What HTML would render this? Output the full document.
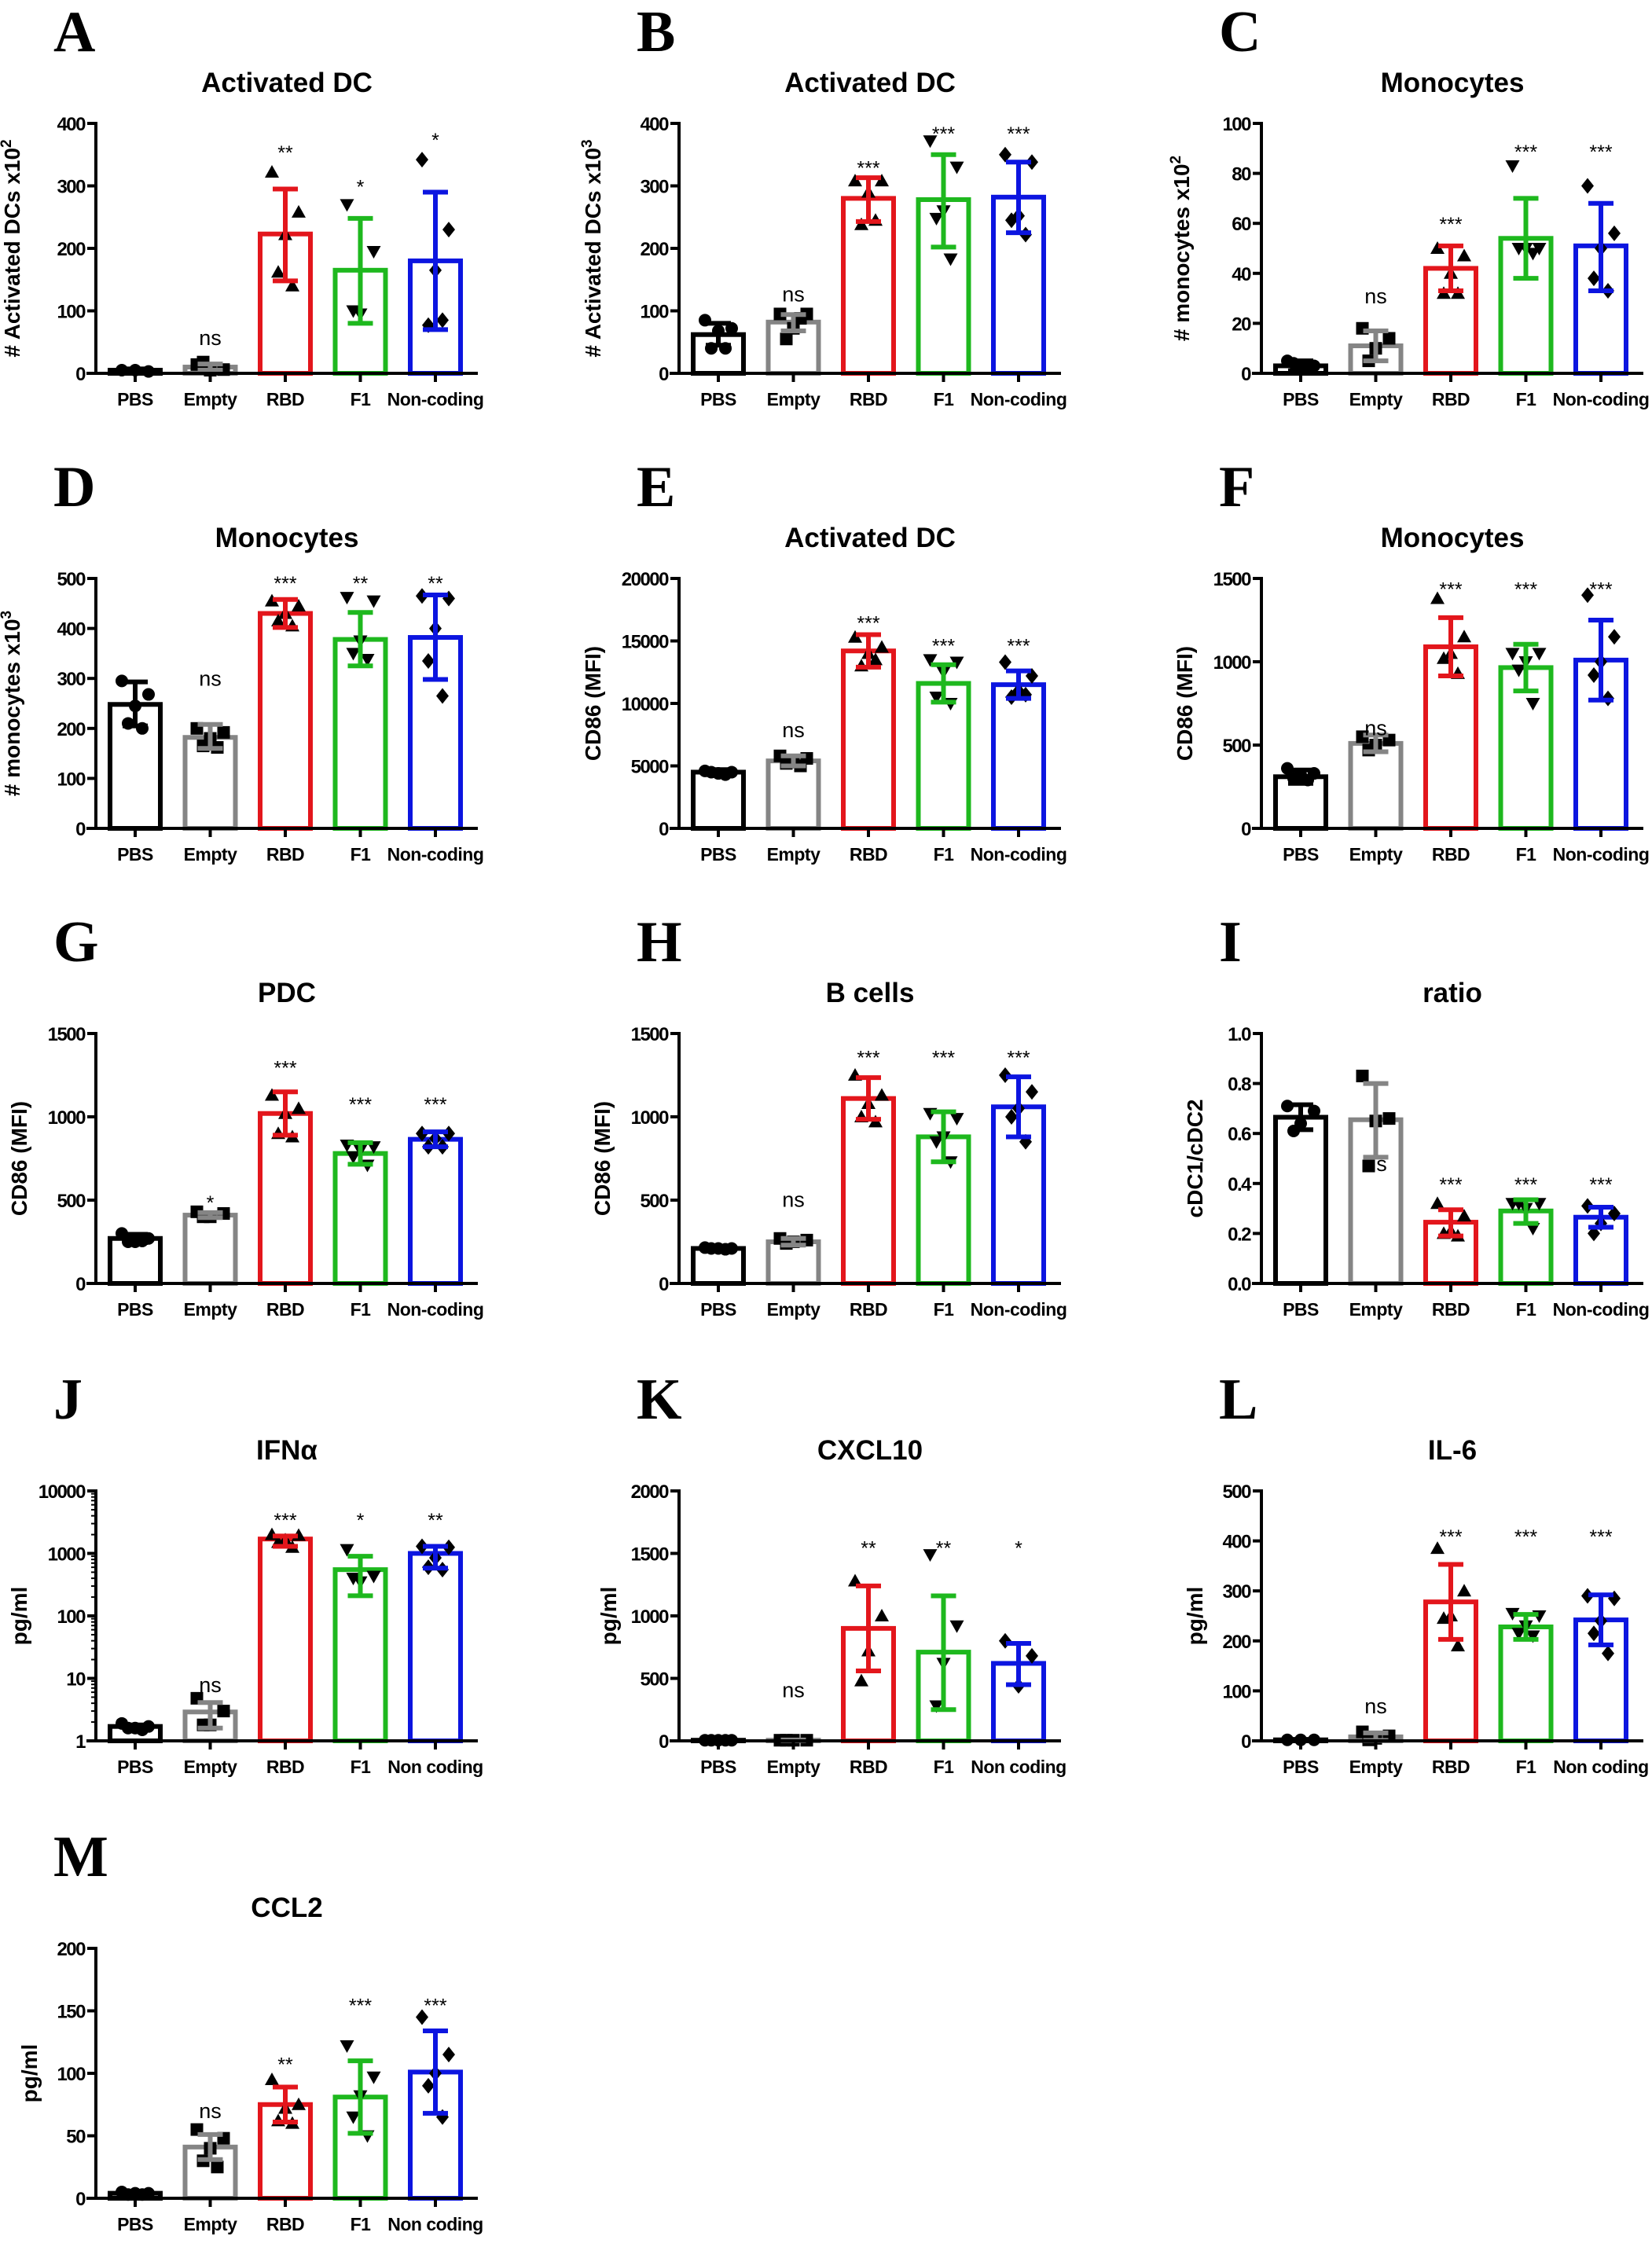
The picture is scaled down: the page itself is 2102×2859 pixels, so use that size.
<!DOCTYPE html>
<html><head><meta charset="utf-8"><style>
html,body{margin:0;padding:0;background:#fff;}
svg text{font-family:"Liberation Sans",Arial,sans-serif;}
</style></head>
<body>
<svg id="fig" xmlns="http://www.w3.org/2000/svg" width="2102" height="2854" viewBox="0 0 2102 2854"></svg>
<script>
// ---- data ----
const catsDash = ["PBS","Empty","RBD","F1","Non-coding"];
const catsSpace = ["PBS","Empty","RBD","F1","Non coding"];

const meansA = [5,10,223,165,180];
const loA = [3,5,148,80,70];
const hiA = [7,15,295,248,290];
const ptsA = [[5,3,5],[14,6,5,18],[322,258,222,162,140],[270,195,95,100],[342,230,165,77,85]];
const sigA = ["","ns","**","*","*"];
const sigYA = [0,45,355,300,375];

const meansB = [62,82,280,278,282];
const loB = [45,68,243,202,225];
const hiB = [80,94,313,350,338];
const ptsB = [[85,72,68,40,40],[95,95,72,55,88],[308,308,290,238,245],[372,330,260,248,183],[350,338,252,245,222]];
const sigB = ["","ns","***","***","***"];
const sigYB = [0,115,330,385,385];

const meansC = [3,11,42,54,51];
const loC = [1,5,33,38,33];
const hiC = [5,17,51,70,68];
const ptsC = [[5,3,2,4,2],[18,14,10,5],[50,47,40,32,32],[83,50,50,50,48],[75,56,50,38,33]];
const sigC = ["","ns","***","***","***"];
const sigYC = [0,28,60,89,89];

const meansD = [248,182,430,378,382];
const loD = [205,160,402,325,298];
const hiD = [293,208,458,432,467];
const ptsD = [[295,268,245,210,200],[200,192,180,165,162],[455,445,430,415,405],[462,455,375,350,338],[465,460,400,335,265]];
const sigD = ["","ns","***","**","**"];
const sigYD = [0,285,492,492,492];

const meansE = [4500,5400,14200,11600,11500];
const loE = [4300,5000,12900,10100,10400];
const hiE = [4700,5800,15500,13100,12600];
const ptsE = [[4600,4500,4400,4500,4300],[5800,5600,5300,5200,5000],[15300,14500,14000,13000,13500],[13500,13300,12500,10500,10000],[13300,12200,11000,10500,10700]];
const sigE = ["","ns","***","***","***"];
const sigYE = [0,7300,16500,14700,14700];

const meansF = [310,510,1090,965,1010];
const loF = [270,460,915,825,770];
const hiF = [350,560,1265,1105,1250];
const ptsF = [[360,330,320,300,290],[550,530,500,470],[1380,1150,1050,1020,930],[1050,1050,1000,950,750],[1400,1150,1000,920,780]];
const sigF = ["","ns","***","***","***"];
const sigYF = [0,560,1440,1440,1440];

const meansG = [270,410,1020,780,865];
const loG = [245,395,890,715,820];
const hiG = [295,425,1150,845,910];
const ptsG = [[300,270,250,250,255],[430,420,400,400],[1130,1050,1020,900,880],[830,820,800,760,710],[900,900,870,820,820]];
const sigG = ["","*","***","***","***"];
const sigYG = [0,490,1300,1080,1080];

const meansH = [210,250,1110,880,1060];
const loH = [200,230,985,730,880];
const hiH = [220,270,1235,1030,1240];
const ptsH = [[215,210,210,210,205],[270,260,250,240],[1250,1130,1080,1000,970],[1020,990,880,850,730],[1250,1150,1050,1000,850]];
const sigH = ["","ns","***","***","***"];
const sigYH = [0,460,1360,1360,1360];

const meansI = [0.665,0.655,0.245,0.29,0.265];
const loI = [0.615,0.505,0.19,0.24,0.225];
const hiI = [0.715,0.8,0.295,0.335,0.305];
const ptsI = [[0.71,0.69,0.64,0.61],[0.83,0.66,0.65,0.47],[0.32,0.27,0.21,0.2,0.19],[0.32,0.32,0.3,0.32,0.22],[0.31,0.28,0.24,0.2]];
const sigI = ["","ns","***","***","***"];
const sigYI = [0,0.45,0.4,0.4,0.4];

const meansJ = [1.7,2.9,1700,550,1000];
const loJ = [1.6,1.6,1300,210,580];
const hiJ = [1.8,4.1,1900,900,1300];
const ptsJ = [[1.9,1.7,1.6,1.6,1.5],[4.8,3,1.8,1.8],[2000,1950,1650,1500,1250],[1150,430,350,400],[1300,1250,850,600,550]];
const sigJ = ["","ns","***","*","**"];
const sigYJ = [0,6,3500,3500,3500];

const meansK = [5,5,900,710,620];
const loK = [3,3,560,250,450];
const hiK = [7,7,1240,1160,780];
const ptsK = [[5,5,5,5,5],[5,5,5,5],[1280,1000,720,480],[1490,920,620,280],[800,680,440]];
const sigK = ["","ns","**","**","*"];
const sigYK = [0,350,1550,1550,1550];

const meansL = [2,8,278,228,242];
const loL = [1,1,203,203,192];
const hiL = [3,16,353,253,292];
const ptsL = [[2,2,2],[18,10,5,2],[385,300,250,245,190],[255,250,230,215,210],[290,285,240,215,175]];
const sigL = ["","ns","***","***","***"];
const sigYL = [0,55,410,410,410];

const meansM = [4,41,75,81,101];
const loM = [3,31,61,52,68];
const hiM = [5,51,89,110,134];
const ptsM = [[5,4,4,3,3],[55,48,40,30,25],[95,75,72,62,60],[122,97,82,65,50],[145,115,100,90,65]];
const sigM = ["","ns","**","***","***"];
const sigYM = [0,64,108,155,155];

const ticksA = [0,100,200,300,400];
const ticksC = [0,20,40,60,80,100];
const ticksD = [0,100,200,300,400,500];
const ticksE = [0,5000,10000,15000,20000];
const ticksF = [0,500,1000,1500];
const ticksI = [0,0.2,0.4,0.6,0.8,1.0];
const tickLabelsI = ["0.0","0.2","0.4","0.6","0.8","1.0"];
const ticksJ = [1,10,100,1000,10000];
const ticksK = [0,500,1000,1500,2000];
const ticksM = [0,50,100,150,200];

// ---- layout ----
const NS = "http://www.w3.org/2000/svg";
const svg = document.getElementById("fig");
const colX = [122,864,1605];
const rowZ = [475,1054,1633,2215,2797];
const PH = 318;
const colors = ["#000000","#858585","#e3161c","#1eb81e","#0c15e0"];
const shapes = ["circle","square","up","down","diamond"];
const jit = [-17,17,0,-9,9];

function el(tag, attrs, parent){
  const e = document.createElementNS(NS, tag);
  for (const k in attrs) e.setAttribute(k, attrs[k]);
  (parent||svg).appendChild(e);
  return e;
}

function panel(p){
  const g = el("g", {});
  
  
  const ax = colX[p.col], z = rowZ[p.row], top = z - PH;
  const xr = ax + 486;
  const yS = v => p.log ? z - (Math.log10(v) / Math.log10(p.max)) * PH : z - v / p.max * PH;
  const xS = i => ax + 50 + i * 95.5;

  const L = el("text", {x: ax - 54, y: z - 410, style: "font-family:'Liberation Serif',serif;font-weight:bold;font-size:74px"}, g);
  L.textContent = p.letter;
  
  

  const T = el("text", {x: ax + 243, y: z - 358, "text-anchor": "middle", "font-weight": "bold", "font-size": 35}, g);
  T.textContent = p.title;
  
  

  const yl = el("text", {transform: `translate(${ax - p.ylOff},${z - PH/2}) rotate(-90)`, "text-anchor": "middle", "font-weight": "bold", "font-size": 28}, g);
  yl.textContent = p.ylabel;
  if (p.sup) {
    const s = el("tspan", {"font-size": 19, dy: -11}, yl);
    s.textContent = p.sup;
  }
  
  

  for (let i = 0; i < 5; i++) {
    const yb = yS(p.means[i]);
    const r = el("rect", {x: xS(i) - 32, y: yb, width: 64, height: Math.max(z - yb, 0.5), fill: "none", stroke: colors[i], "stroke-width": 6}, g);
    
    
  }
  for (let i = 0; i < 5; i++) {
    p.pts[i].forEach((v, j) => {
      const cx = xS(i) + jit[j], cy = yS(v);
      let m;
      if (shapes[i] === "circle") m = el("circle", {cx, cy, r: 8, fill: "#000"}, g);
      else if (shapes[i] === "square") m = el("rect", {x: cx - 8, y: cy - 8, width: 16, height: 16, fill: "#000"}, g);
      else if (shapes[i] === "up") m = el("polygon", {points: `${cx},${cy-9} ${cx+9},${cy+7} ${cx-9},${cy+7}`, fill: "#000"}, g);
      else if (shapes[i] === "down") m = el("polygon", {points: `${cx},${cy+9} ${cx+9},${cy-7} ${cx-9},${cy-7}`, fill: "#000"}, g);
      else m = el("polygon", {points: `${cx},${cy-10} ${cx+8},${cy} ${cx},${cy+10} ${cx-8},${cy}`, fill: "#000"}, g);
      
      
    });
  }
  for (let i = 0; i < 5; i++) {
    const x = xS(i), y1 = yS(p.lo[i]), y2 = yS(p.hi[i]);
    const eg = el("g", {stroke: colors[i], "stroke-width": 6, fill: "none"}, g);
    
    
    el("line", {x1: x, y1: y1, x2: x, y2: y2}, eg);
    el("line", {x1: x - 16, y1: y1, x2: x + 16, y2: y1}, eg);
    el("line", {x1: x - 16, y1: y2, x2: x + 16, y2: y2}, eg);
  }
  for (let i = 0; i < 5; i++) {
    if (!p.sig[i]) continue;
    const isNs = p.sig[i] === "ns";
    const t = el("text", {x: xS(i), y: yS(p.sigY[i]) + (isNs ? 0 : 10), "text-anchor": "middle", "font-size": isNs ? 27 : 25}, g);
    t.textContent = p.sig[i];
    
    
  }
  const axg = el("g", {stroke: "#000", "stroke-width": 4}, g);
  
  
  el("line", {x1: ax, y1: top - 2, x2: ax, y2: z + 2}, axg);
  el("line", {x1: ax - 12, y1: z, x2: xr, y2: z}, axg);
  p.ticks.forEach((v, k) => {
    const y = yS(v);
    el("line", {x1: ax - 11, y1: y, x2: ax, y2: y}, axg);
    const t = el("text", {x: ax - 14, y: y + 9, "text-anchor": "end", "font-weight": "bold", "font-size": 24, "letter-spacing": "-1.5", stroke: "none"}, g);
    t.textContent = p.tickLabels ? p.tickLabels[k] : String(v);
    
    
  });
  if (p.log) {
    for (let d = 0; d < 4; d++) for (let m = 2; m <= 9; m++) {
      const y = yS(m * Math.pow(10, d));
      el("line", {x1: ax - 6, y1: y, x2: ax, y2: y, "stroke-width": 2}, axg);
    }
  }
  for (let i = 0; i < 5; i++) {
    el("line", {x1: xS(i), y1: z, x2: xS(i), y2: z + 11}, axg);
    const t = el("text", {x: xS(i), y: z + 41, "text-anchor": "middle", "font-weight": "bold", "font-size": 23, "letter-spacing": "-0.5"}, g);
    t.textContent = p.cats[i];
    
    
  }
}

const panels = [
 {letter:"A",col:0,row:0,title:"Activated DC",ylabel:"# Activated DCs x10",sup:"2",ylOff:97,max:400,ticks:ticksA,cats:catsDash,means:meansA,lo:loA,hi:hiA,pts:ptsA,sig:sigA,sigY:sigYA},
 {letter:"B",col:1,row:0,title:"Activated DC",ylabel:"# Activated DCs x10",sup:"3",ylOff:100,max:400,ticks:ticksA,cats:catsDash,means:meansB,lo:loB,hi:hiB,pts:ptsB,sig:sigB,sigY:sigYB},
 {letter:"C",col:2,row:0,title:"Monocytes",ylabel:"# monocytes x10",sup:"2",ylOff:92,max:100,ticks:ticksC,cats:catsDash,means:meansC,lo:loC,hi:hiC,pts:ptsC,sig:sigC,sigY:sigYC},
 {letter:"D",col:0,row:1,title:"Monocytes",ylabel:"# monocytes x10",sup:"3",ylOff:97,max:500,ticks:ticksD,cats:catsDash,means:meansD,lo:loD,hi:hiD,pts:ptsD,sig:sigD,sigY:sigYD},
 {letter:"E",col:1,row:1,title:"Activated DC",ylabel:"CD86 (MFI)",ylOff:100,max:20000,ticks:ticksE,cats:catsDash,means:meansE,lo:loE,hi:hiE,pts:ptsE,sig:sigE,sigY:sigYE},
 {letter:"F",col:2,row:1,title:"Monocytes",ylabel:"CD86 (MFI)",ylOff:88,max:1500,ticks:ticksF,cats:catsDash,means:meansF,lo:loF,hi:hiF,pts:ptsF,sig:sigF,sigY:sigYF},
 {letter:"G",col:0,row:2,title:"PDC",ylabel:"CD86 (MFI)",ylOff:88,max:1500,ticks:ticksF,cats:catsDash,means:meansG,lo:loG,hi:hiG,pts:ptsG,sig:sigG,sigY:sigYG},
 {letter:"H",col:1,row:2,title:"B cells",ylabel:"CD86 (MFI)",ylOff:88,max:1500,ticks:ticksF,cats:catsDash,means:meansH,lo:loH,hi:hiH,pts:ptsH,sig:sigH,sigY:sigYH},
 {letter:"I",col:2,row:2,title:"ratio",ylabel:"cDC1/cDC2",ylOff:75,max:1.0,ticks:ticksI,tickLabels:tickLabelsI,cats:catsDash,means:meansI,lo:loI,hi:hiI,pts:ptsI,sig:sigI,sigY:sigYI},
 {letter:"J",col:0,row:3,title:"IFNα",ylabel:"pg/ml",ylOff:88,max:10000,log:true,ticks:ticksJ,cats:catsSpace,means:meansJ,lo:loJ,hi:hiJ,pts:ptsJ,sig:sigJ,sigY:sigYJ},
 {letter:"K",col:1,row:3,title:"CXCL10",ylabel:"pg/ml",ylOff:80,max:2000,ticks:ticksK,cats:catsSpace,means:meansK,lo:loK,hi:hiK,pts:ptsK,sig:sigK,sigY:sigYK},
 {letter:"L",col:2,row:3,title:"IL-6",ylabel:"pg/ml",ylOff:75,max:500,ticks:ticksD,cats:catsSpace,means:meansL,lo:loL,hi:hiL,pts:ptsL,sig:sigL,sigY:sigYL},
 {letter:"M",col:0,row:4,title:"CCL2",ylabel:"pg/ml",ylOff:75,max:200,ticks:ticksM,cats:catsSpace,means:meansM,lo:loM,hi:hiM,pts:ptsM,sig:sigM,sigY:sigYM}
];
panels.forEach(panel);
</script>
</body></html>
